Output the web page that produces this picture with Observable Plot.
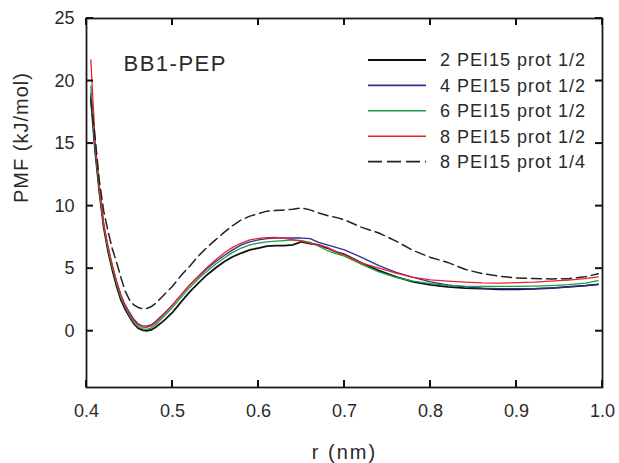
<!DOCTYPE html>
<html>
<head>
<meta charset="utf-8">
<script src="https://cdn.jsdelivr.net/npm/d3@7"></script>
<script src="https://cdn.jsdelivr.net/npm/@observablehq/plot@0.6"></script>
<style>
  html, body { margin: 0; padding: 0; background: #fff; }
  svg { display: block; }
</style>
</head>
<body>
<script>
// ---- data ----
const rVals = [0.405,0.41,0.415,0.42,0.425,0.43,0.435,0.44,0.445,0.45,0.455,0.46,0.465,0.47,0.475,0.48,0.49,0.50,0.51,0.52,0.53,0.54,0.55,0.56,0.57,0.58,0.59,0.60,0.61,0.62,0.63,0.64,0.65,0.66,0.67,0.68,0.69,0.70,0.72,0.74,0.76,0.78,0.80,0.82,0.84,0.86,0.88,0.90,0.92,0.94,0.96,0.98,0.995];

const pmf2half = [18.7,14.4,11.1,8.3,6.4,4.9,3.6,2.5,1.75,1.15,0.6,0.25,0.08,0.02,0.1,0.3,0.85,1.5,2.35,3.15,3.85,4.5,5.05,5.55,5.95,6.25,6.5,6.65,6.8,6.85,6.85,6.9,7.15,7.0,6.9,6.65,6.35,6.15,5.45,4.85,4.35,3.95,3.7,3.55,3.45,3.4,3.35,3.35,3.38,3.45,3.55,3.65,3.75];
const pmf4half = [19.0,14.6,11.3,8.5,6.7,5.2,3.95,2.9,2.1,1.5,0.95,0.6,0.42,0.4,0.5,0.75,1.4,2.1,2.9,3.7,4.35,5.0,5.55,6.05,6.5,6.9,7.15,7.3,7.4,7.45,7.45,7.45,7.45,7.4,7.1,6.9,6.7,6.5,5.9,5.25,4.7,4.3,3.95,3.7,3.55,3.45,3.4,3.4,3.4,3.45,3.55,3.65,3.75];
const pmf6half = [19.6,14.8,11.3,8.5,6.6,5.1,3.8,2.7,1.9,1.25,0.7,0.35,0.18,0.15,0.25,0.5,1.2,1.9,2.7,3.5,4.2,4.8,5.35,5.85,6.3,6.65,6.9,7.05,7.15,7.2,7.25,7.3,7.25,7.1,6.8,6.45,6.2,6.0,5.35,4.75,4.3,4.0,3.8,3.66,3.6,3.58,3.58,3.58,3.6,3.65,3.72,3.85,4.05];
const pmf8half = [21.7,15.2,11.5,8.6,6.8,5.3,4.0,2.9,2.0,1.35,0.85,0.5,0.32,0.3,0.4,0.65,1.35,2.1,2.9,3.7,4.4,5.1,5.7,6.25,6.7,7.05,7.3,7.42,7.48,7.5,7.42,7.3,7.2,7.05,6.9,6.7,6.35,6.1,5.45,5.05,4.65,4.3,4.1,4.0,3.92,3.86,3.85,3.88,3.92,4.0,4.08,4.2,4.35];
const pmf8quarter = [18.5,15.5,12.0,9.6,8.0,6.6,5.5,4.3,3.2,2.5,2.1,1.9,1.8,1.82,1.95,2.2,2.9,3.6,4.45,5.2,6.0,6.7,7.3,7.9,8.45,8.9,9.2,9.4,9.6,9.65,9.7,9.75,9.85,9.7,9.45,9.25,9.1,8.9,8.3,7.85,7.2,6.45,5.9,5.5,4.95,4.6,4.4,4.25,4.22,4.18,4.2,4.35,4.6];

const seriesNames = ["2 PEI15 prot 1/2","4 PEI15 prot 1/2","6 PEI15 prot 1/2","8 PEI15 prot 1/2","8 PEI15 prot 1/4"];
const seriesValues = [pmf2half, pmf4half, pmf6half, pmf8half, pmf8quarter];
const seriesColors = ["#111111","#2e3192","#16a04a","#ec2227","#222222"];
const seriesWidths = [1.8, 1.3, 1.3, 1.3, 1.5];
const seriesDash = [null, null, null, null, "10,5"];

const xTicks = [0.4,0.5,0.6,0.7,0.8,0.9,1.0];
const yTicks = [0,5,10,15,20,25];
const xLabel = "r (nm)";
const yLabel = "PMF (kJ/mol)";
const panelTitle = "BB1-PEP";

(function () {
  // ---- build tidy rows ----
  const rows = [];
  seriesNames.forEach((name, s) => {
    rVals.forEach((r, i) => rows.push({series: name, r, pmf: seriesValues[s][i]}));
  });

  const font = "'Liberation Sans', Arial, Helvetica, sans-serif";
  const W = 619, H = 463;
  const mL = 86, mR = 17, mT = 18, mB = 76;
  const tickLen = 7;

  // legend drawn as a custom render mark, placed relative to the frame
  function legendMark(index, scales, values, dims) {
    const g = d3.create("svg:g").attr("font-family", font).attr("text-anchor", "start");
    const fr = dims.width - dims.marginRight;
    const x0 = fr - 234, x1 = fr - 176, tx = fr - 162;
    seriesNames.forEach((name, i) => {
      const y = dims.marginTop + 42 + i * 25.4;
      g.append("line")
        .attr("x1", x0).attr("x2", x1).attr("y1", y).attr("y2", y)
        .attr("stroke", seriesColors[i])
        .attr("stroke-width", i === 0 ? 2.2 : (i === 4 ? 1.8 : 1.6))
        .attr("stroke-dasharray", i === 4 ? "14,5" : null);
      g.append("text")
        .attr("x", tx).attr("y", y).attr("dy", "0.35em")
        .attr("text-anchor", "start")
        .attr("font-size", 18).attr("letter-spacing", "1px")
        .attr("fill", "#2a2a2a")
        .text(name);
    });
    return g.node();
  }

  const marks = [
    Plot.axisX({anchor: "bottom", ticks: xTicks, tickSize: 0, tickPadding: 17, tickFormat: d3.format(".1f"), label: null, fontSize: 18, fill: "#2a2a2a"}),
    Plot.axisY({anchor: "left", ticks: yTicks, tickSize: 0, tickPadding: 12, tickFormat: d3.format("d"), label: null, fontSize: 18, fill: "#2a2a2a"}),
    Plot.frame({stroke: "#1a1a1a", strokeWidth: 1.8, fill: "none"}),
  ];

  seriesNames.forEach((name, s) => {
    marks.push(Plot.line(rows.filter(d => d.series === name), {
      x: "r", y: "pmf",
      stroke: seriesColors[s],
      strokeWidth: seriesWidths[s],
      strokeDasharray: seriesDash[s],
      curve: "linear"
    }));
  });

  marks.push(
    Plot.text([panelTitle], {text: d => d, frameAnchor: "top-left", dx: 37, dy: 45, fontSize: 22, fill: "#2a2a2a", textAnchor: "start", lineAnchor: "middle"}),
    Plot.text([xLabel], {text: d => d, frameAnchor: "bottom", dy: 65, fontSize: 20, fill: "#2a2a2a", lineAnchor: "middle"}),
    Plot.text([yLabel], {text: d => d, frameAnchor: "left", dx: -65, rotate: -90, fontSize: 20, fill: "#2a2a2a", lineAnchor: "middle"}),
    legendMark
  );

  const chart = Plot.plot({
    width: W, height: H,
    marginLeft: mL, marginRight: mR, marginTop: mT, marginBottom: mB,
    x: {domain: [0.4, 1.0]},
    y: {domain: [-4.5, 25]},
    style: {fontFamily: font, background: "#fff", color: "#1a1a1a"},
    marks
  });

  // inward tick marks on all four sides, positioned with the plot's own scales
  const xs = chart.scale("x"), ys = chart.scale("y");
  const fLeft = mL, fRight = W - mR, fTop = mT, fBottom = H - mB;
  const tg = d3.select(chart).append("g").attr("stroke", "#111").attr("stroke-width", 2).attr("fill", "none");
  xTicks.forEach(t => {
    const px = xs.apply(t);
    tg.append("line").attr("x1", px).attr("x2", px).attr("y1", fBottom).attr("y2", fBottom - tickLen);
    tg.append("line").attr("x1", px).attr("x2", px).attr("y1", fTop).attr("y2", fTop + tickLen);
  });
  yTicks.forEach(t => {
    const py = ys.apply(t);
    tg.append("line").attr("x1", fLeft).attr("x2", fLeft + tickLen).attr("y1", py).attr("y2", py);
    tg.append("line").attr("x1", fRight).attr("x2", fRight - tickLen).attr("y1", py).attr("y2", py);
  });

  const sel = d3.select(chart).selectAll("text");
  sel.filter(function() { return this.textContent === xLabel; }).attr("letter-spacing", "2px");
  sel.filter(function() { return this.textContent === yLabel; }).attr("letter-spacing", "1px");
  sel.filter(function() { return this.textContent === panelTitle; }).attr("letter-spacing", "1.5px");
  document.body.appendChild(chart);
})();
</script>
</body>
</html>
